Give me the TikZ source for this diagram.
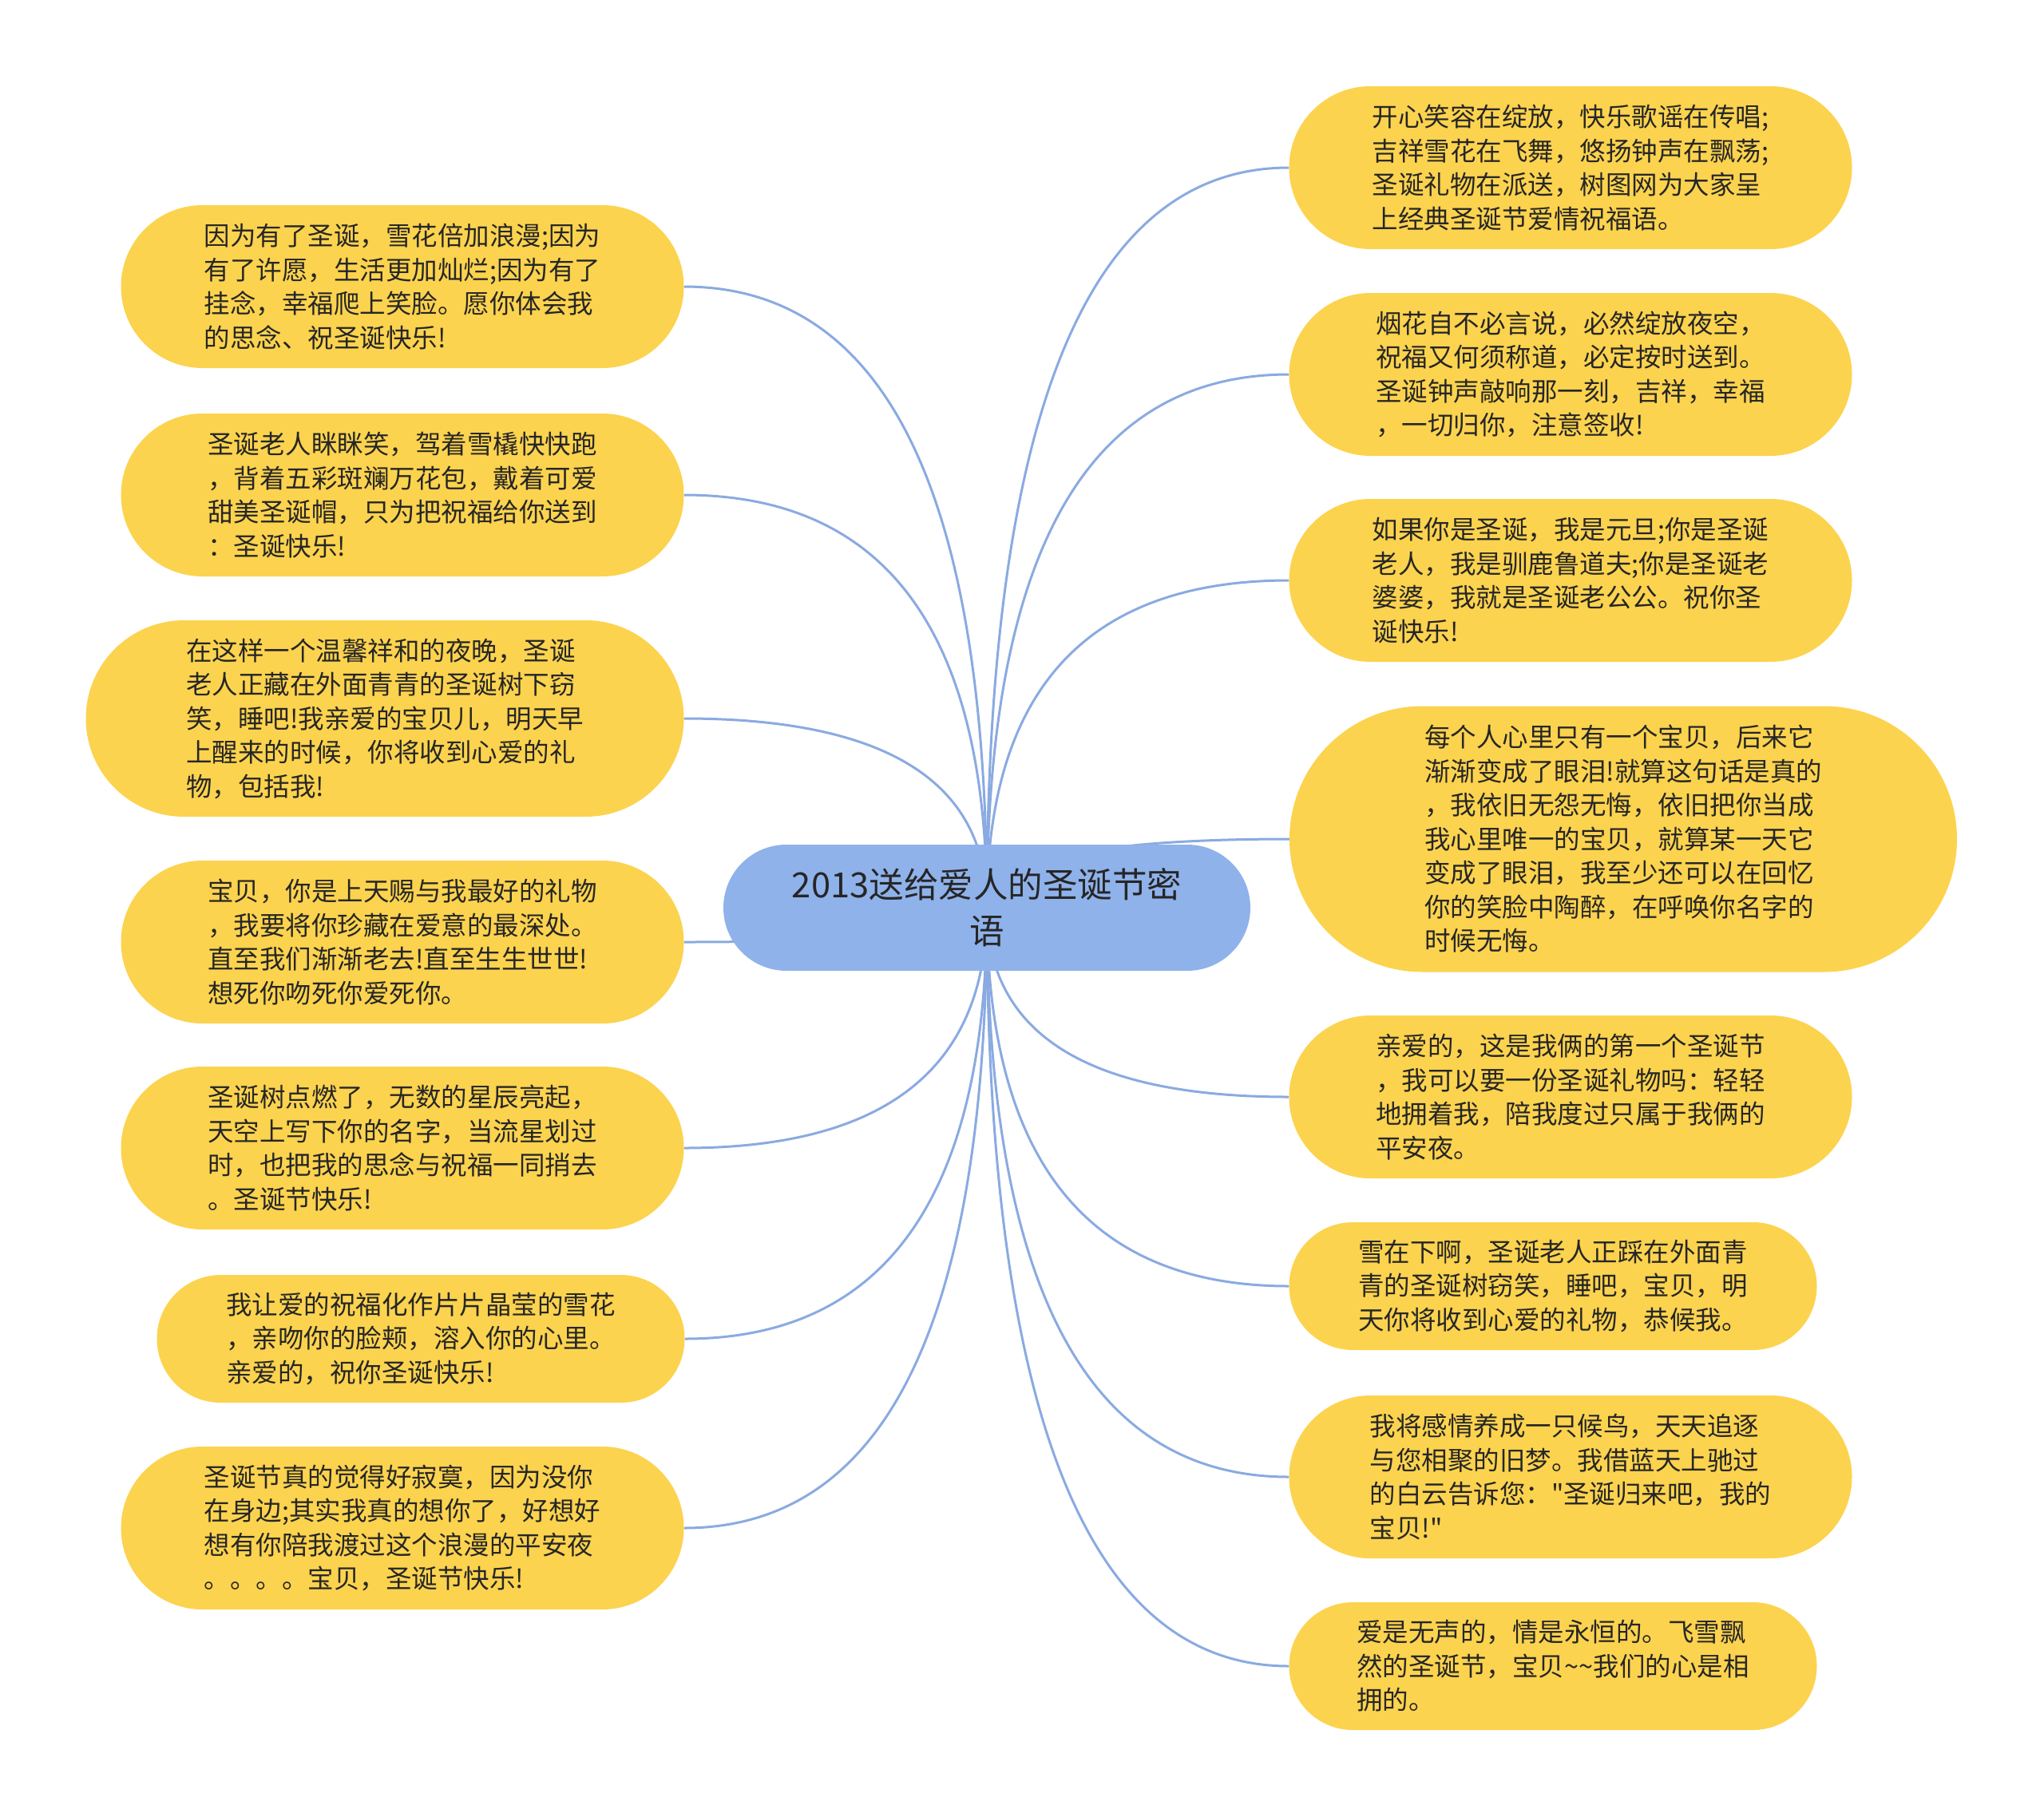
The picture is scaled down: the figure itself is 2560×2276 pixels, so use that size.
\documentclass[tikz,border=0pt]{standalone}
\usepackage{fontspec}
\setmainfont{Noto Sans CJK SC}
\newfontfamily\plainquote{Noto Sans CJK SC}
\usepackage{xcolor}
\usepackage{tikz}
\usetikzlibrary{shapes.misc,backgrounds,calc}
\definecolor{leafyellow}{RGB}{252,211,78}
\definecolor{rootblue}{RGB}{143,178,234}
\definecolor{linkblue}{RGB}{138,170,225}
\definecolor{textdark}{RGB}{38,38,38}
\newcommand{\sq}{{\plainquote"}}

\tikzset{
  leaf/.style={rounded rectangle, fill=leafyellow, text=textdark, align=left,
    inner sep=0pt, minimum width=705pt, minimum height=204pt,
    font=\fontsize{32.5}{42.5}\selectfont},
  leafwide/.style={leaf, minimum width=749pt, minimum height=246pt},
  leafbig/.style={leaf, minimum width=836pt, minimum height=333pt},
  leafshort/.style={leaf, minimum width=661pt, minimum height=160pt},
  rootnode/.style={rounded rectangle, fill=rootblue, text=textdark, align=center,
    inner sep=0pt, minimum width=660pt, minimum height=158pt,
    font=\fontsize{43.5}{58}\selectfont},
  link/.style={linkblue, line width=3pt}
}

\begin{document}
\begin{tikzpicture}[x=1pt, y=-1pt]
  \useasboundingbox (0,0) rectangle (2560,2276);
  % centre
  \node[rootnode] (root) at (1236,1137) {2013送给爱人的圣诞节密\\语};
  % left branch
  \node[leaf] (l1) at (504,359) {因为有了圣诞，雪花倍加浪漫;因为\\有了许愿，生活更加灿烂;因为有了\\挂念，幸福爬上笑脸。愿你体会我\\的思念、祝圣诞快乐!};
  \node[leaf] (l2) at (504,620) {圣诞老人眯眯笑，驾着雪橇快快跑\\，背着五彩斑斓万花包，戴着可爱\\甜美圣诞帽，只为把祝福给你送到\\：圣诞快乐!};
  \node[leafwide] (l3) at (482,900) {在这样一个温馨祥和的夜晚，圣诞\\老人正藏在外面青青的圣诞树下窃\\笑，睡吧!我亲爱的宝贝儿，明天早\\上醒来的时候，你将收到心爱的礼\\物，包括我!};
  \node[leaf] (l4) at (504,1180) {宝贝，你是上天赐与我最好的礼物\\，我要将你珍藏在爱意的最深处。\\直至我们渐渐老去!直至生生世世!\\想死你吻死你爱死你。};
  \node[leaf] (l5) at (504,1438) {圣诞树点燃了，无数的星辰亮起，\\天空上写下你的名字，当流星划过\\时，也把我的思念与祝福一同捎去\\。圣诞节快乐!};
  \node[leafshort] (l6) at (527,1677) {我让爱的祝福化作片片晶莹的雪花\\，亲吻你的脸颊，溶入你的心里。\\亲爱的，祝你圣诞快乐!};
  \node[leaf] (l7) at (504,1914) {圣诞节真的觉得好寂寞，因为没你\\在身边;其实我真的想你了，好想好\\想有你陪我渡过这个浪漫的平安夜\\。。。。宝贝，圣诞节快乐!};
  % right branch
  \node[leaf] (r1) at (1967,210) {开心笑容在绽放，快乐歌谣在传唱;\\吉祥雪花在飞舞，悠扬钟声在飘荡;\\圣诞礼物在派送，树图网为大家呈\\上经典圣诞节爱情祝福语。};
  \node[leaf] (r2) at (1967,469) {烟花自不必言说，必然绽放夜空，\\祝福又何须称道，必定按时送到。\\圣诞钟声敲响那一刻，吉祥，幸福\\，一切归你，注意签收!};
  \node[leaf] (r3) at (1967,727) {如果你是圣诞，我是元旦;你是圣诞\\老人，我是驯鹿鲁道夫;你是圣诞老\\婆婆，我就是圣诞老公公。祝你圣\\诞快乐!};
  \node[leafbig] (r4) at (2033,1051) {每个人心里只有一个宝贝，后来它\\渐渐变成了眼泪!就算这句话是真的\\，我依旧无怨无悔，依旧把你当成\\我心里唯一的宝贝，就算某一天它\\变成了眼泪，我至少还可以在回忆\\你的笑脸中陶醉，在呼唤你名字的\\时候无悔。};
  \node[leaf] (r5) at (1967,1374) {亲爱的，这是我俩的第一个圣诞节\\，我可以要一份圣诞礼物吗：轻轻\\地拥着我，陪我度过只属于我俩的\\平安夜。};
  \node[leafshort] (r6) at (1945,1611) {雪在下啊，圣诞老人正踩在外面青\\青的圣诞树窃笑，睡吧，宝贝，明\\天你将收到心爱的礼物，恭候我。};
  \node[leaf] (r7) at (1967,1850) {我将感情养成一只候鸟，天天追逐\\与您相聚的旧梦。我借蓝天上驰过\\的白云告诉您：\sq 圣诞归来吧，我的\\宝贝!\sq};
  \node[leafshort] (r8) at (1945,2087) {爱是无声的，情是永恒的。飞雪飘\\然的圣诞节，宝贝\textasciitilde\textasciitilde 我们的心是相\\拥的。};
  % links (quadratic curves)
  \begin{scope}[on background layer]
    \foreach \leaf in {l1,l2,l3,l4,l5,l6,l7}
      \draw[link] (root.center)
        .. controls ($(root.center)!0.667!(root.center |- \leaf.east)$)
        and ($(\leaf.east)!0.667!(root.center |- \leaf.east)$) .. (\leaf.east);
    \foreach \leaf in {r1,r2,r3,r4,r5,r6,r7,r8}
      \draw[link] (root.center)
        .. controls ($(root.center)!0.667!(root.center |- \leaf.west)$)
        and ($(\leaf.west)!0.667!(root.center |- \leaf.west)$) .. (\leaf.west);
  \end{scope}
\end{tikzpicture}
\end{document}
